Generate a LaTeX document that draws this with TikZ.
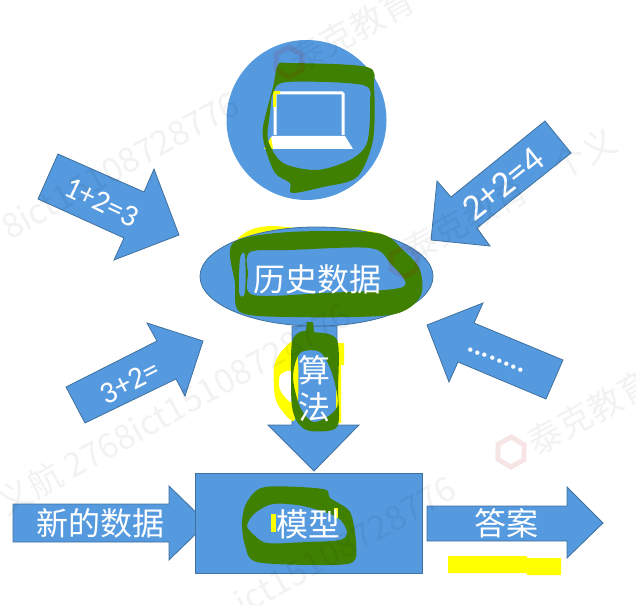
\documentclass[tikz,border=0pt]{standalone}
\usepackage{fontspec}
\usetikzlibrary{shapes.geometric}
\setmainfont{Noto Sans CJK SC}
\newfontfamily\latinfont{Carlito}
\definecolor{blockblue}{HTML}{5599DF}
\definecolor{blockedge}{HTML}{41719C}
\definecolor{penwash}{HTML}{3F8000}
\definecolor{marker}{HTML}{FFFF00}
\tikzset{
  block/.style={fill=blockblue, draw=blockedge, line width=.8pt},
  whitetext/.style={text=white, inner sep=0pt, font=\fontsize{32}{36}\selectfont},
  sumtext/.style={text=white, inner sep=0pt, font=\latinfont\fontsize{31}{34}\selectfont},
  pen/.style={fill=penwash, even odd rule},
  stamp/.style={text=black, opacity=.05, inner sep=0pt, rotate=29, font=\fontsize{34}{38}\selectfont},
  stamplogo/.style={regular polygon, regular polygon sides=6, draw=red!70!black, opacity=.1, line width=5pt, minimum size=30pt, inner sep=0pt, rotate=29}
}
\begin{document}
\begin{tikzpicture}[x=1pt, y=-1pt]
    \useasboundingbox (0,0) rectangle (636,604);
    % the big arrows
    \draw[block] (58,154) -- (144,192) -- (154,169) -- (179,235) -- (114,260) -- (124,238) -- (38,199) -- cycle;
    \draw[block] (545,121) -- (571,153) -- (477,228) -- (490,246) -- (431,240) -- (437,181) -- (451,197) -- cycle;
    \draw[block] (66,387) -- (157,341) -- (147,323) -- (203,341) -- (185,396) -- (176,379) -- (85,423) -- cycle;
    \draw[block] (563,360) -- (474,323) -- (483,303) -- (427,325) -- (449,382) -- (458,362) -- (546,399) -- cycle;
    \draw[block] (13,504) -- (169,504) -- (169,486) -- (207,523) -- (169,560) -- (169,542) -- (13,542) -- cycle;
    \draw[block] (427,506) -- (567,506) -- (567,487) -- (603,523) -- (567,558) -- (567,541) -- (427,541) -- cycle;
    \draw[block] (292,326) -- (337,326) -- (337,425) -- (359,425) -- (314,471) -- (268,425) -- (292,425) -- cycle;
    % yellow marks
    \fill[marker] plot[smooth cycle] coordinates {(237,241) (250,230) (270,226) (300,228) (345,228) (381,234) (370,242) (260,246)};
    \fill[marker] (448,556) rectangle (527,573) (527,558) rectangle (561,575);
    \node (history)[block, ellipse, minimum width=233pt, minimum height=99pt, inner sep=0pt] at (316.5,276.5) {};
    \node (pc)[circle, fill=blockblue, minimum size=160pt, inner sep=0pt] at (306.5,120) {};
    \node (model)[block, rectangle, minimum width=227pt, minimum height=100pt, inner sep=0pt] at (308.5,523) {};
    % laptop
    \draw[white, line width=3pt, rounded corners=1pt] (275,135) -- (275,93) -- (343,93) -- (343,135);
    \fill[white] (272,136) -- (345,136) -- (353,149) -- (264,149) -- cycle;
    \fill[marker] (272,91) rectangle (280,94) (273,91) rectangle (276,107);
    \fill[marker] (271,137) -- (264,149) -- (273,149) -- cycle;
    % yellow round the two words
    \fill[marker, even odd rule] plot[smooth cycle] coordinates {(294,341) (281,352) (274,367) (275,397) (283,412) (294,421) (298,400) (298,360)}
      plot[smooth cycle] coordinates {(292,372) (280,375) (280,390) (292,402)};
    \fill[marker] (336,343) -- (344,343) -- (344,365) -- (341,365) -- (341,423) -- (336,423) -- cycle;
    \fill[marker] (271,514) rectangle (276,532);
    % green pen
    \fill[pen] plot[smooth cycle] coordinates {(278,65) (290,63) (367,67) (374,87) (373,140) (357,177) (323,187) (292,193) (290,183) (275,173) (265,147) (263,127) (273,87)}
      plot[smooth cycle] coordinates {(287,82) (363,85) (370,103) (367,143) (350,160) (317,170) (283,163) (268,140) (270,113) (273,93)};
    \fill[pen] plot[smooth cycle] coordinates {(233,243) (290,232) (377,233) (403,250) (420,270) (420,297) (390,315) (290,317) (240,312) (235,283)}
      plot[smooth cycle] coordinates {(250,252) (290,250) (370,248) (390,263) (403,287) (323,293) (253,295) (248,273)}
      plot[smooth cycle] coordinates {(240,258) (245,255) (245,293) (239,293)};
    \fill[pen] plot[smooth cycle] coordinates {(292,342) (300,332) (313,332) (337,340) (338,390) (337,427) (310,431) (298,423) (292,407) (291,375)}
      plot[smooth cycle] coordinates {(300,353) (320,352) (332,373) (338,403) (330,415) (313,422) (300,407) (293,377)};
    \fill[penwash] (307,322) -- (313,322) -- (314,332) -- (306,332) -- cycle;
    \fill[pen] plot[smooth cycle] coordinates {(265,487) (323,489) (330,498) (350,512) (356,543) (353,562) (323,565) (257,562) (245,545) (242,522) (247,502)}
      plot[smooth cycle] coordinates {(273,504) (303,506) (337,517) (347,532) (340,540) (307,542) (267,543) (252,533) (247,525) (255,513)};
    \fill[marker] (334,508) rectangle (338,518);
    % labels
    \node (history-text)[whitetext] at (317,279) {历史数据};
    \node (algo-a)[whitetext] at (314,370) {算};
    \node (algo-b)[whitetext] at (314,407) {法};
    \node (model-text)[whitetext] at (308.5,524) {模型};
    \node (newdata-text)[whitetext] at (100,523) {新的数据};
    \node (answer-text)[whitetext] at (506.5,523) {答案};
    \node (sum-a)[sumtext, rotate=-25.5] at (102,202) {1+2=3};
    \node (sum-b)[sumtext, rotate=39, font=\latinfont\fontsize{37}{40}\selectfont] at (503,184) {2+2=4};
    \node (sum-c)[sumtext, rotate=27] at (130,382) {3+2=};
    \node (sum-d)[sumtext, rotate=-22, font=\latinfont\bfseries\fontsize{29}{32}\selectfont] at (496,360) {........};
    % watermark
    \node (mark-a)[stamp] at (120,165) {8ict15108728776};
    \node (mark-b)[stamp, anchor=west] at (0,505) {义航 2768ict15108728776};
    \node (mark-c)[stamp] at (345,545) {ict15108728776};
    \node (mark-d)[stamp] at (352,30) {泰克教育};
    \node (mark-e)[stamp] at (510,195) {泰克教育\quad 个义};
    \node (mark-f)[stamp] at (590,412) {泰克教育};
    \node (logo-a)[stamplogo] at (289,62) {};
    \node (logo-b)[stamplogo] at (511,452) {};
    \node (logo-c)[stamplogo] at (404,262) {};
\end{tikzpicture}
\end{document}
